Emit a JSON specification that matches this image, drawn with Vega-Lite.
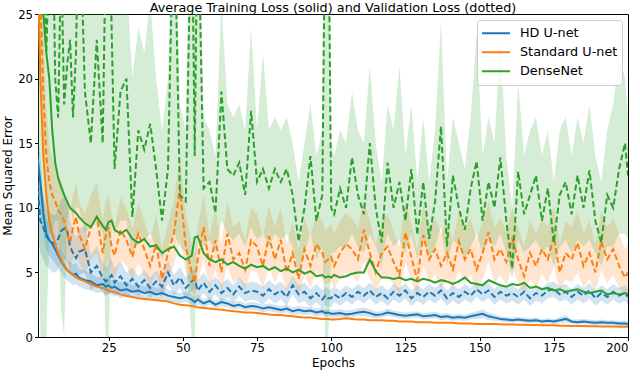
{
"$schema": "https://vega.github.io/schema/vega-lite/v6.json",
"width": 590, "height": 323,
"autosize": {"type": "none"},
"padding": {"left": 38, "top": 14, "right": 12, "bottom": 44},
"title": {"text": "Average Training Loss (solid) and Validation Loss (dotted)", "fontSize": 12.8, "fontWeight": "normal", "font": "DejaVu Sans", "color": "#000", "offset": 0, "dy": 5.5},
"data": {"values": [
{"e":1,"a":14,"al":12,"ah":16,"b":12,"bl":8,"bh":16,"c":30,"d":32,"dl":24,"dh":40,"f":40,"g":40,"gl":20,"gh":50},
{"e":2,"a":12,"al":10,"ah":14,"b":9,"bl":6.5,"bh":11.5,"c":20,"d":26,"dl":19,"dh":33,"f":30,"g":36,"gl":0,"gh":50},
{"e":3,"a":9.5,"al":8,"ah":11,"b":8.5,"bl":6,"bh":11,"c":14,"d":19,"dl":14,"dh":24,"f":25,"g":35,"gl":0,"gh":50},
{"e":4,"a":8,"al":6.8,"ah":9.2,"b":7.8,"bl":5.5,"bh":10,"c":11,"d":14,"dl":10.5,"dh":17.5,"f":22,"g":22,"gl":0,"gh":45},
{"e":5,"a":7.5,"al":6.3,"ah":8.7,"b":7.5,"bl":5.3,"bh":9.7,"c":9,"d":12,"dl":9,"dh":15,"f":20,"g":30,"gl":8,"gh":45},
{"e":6,"a":7.2,"al":6,"ah":8.3,"b":7.3,"bl":5,"bh":9.5,"c":8,"d":11,"dl":8.2,"dh":13.8,"f":16,"g":35,"gl":8,"gh":45},
{"e":7,"a":6.8,"al":5.7,"ah":7.9,"b":7.2,"bl":5,"bh":9.4,"c":7.2,"d":10.5,"dl":7.8,"dh":13.2,"f":13.5,"g":20,"gl":9,"gh":40},
{"e":8,"a":6.3,"al":5.3,"ah":7.3,"b":7.6,"bl":5.2,"bh":10,"c":6.5,"d":9.8,"dl":7.2,"dh":12.4,"f":12.3,"g":17,"gl":9,"gh":35},
{"e":9,"a":5.9,"al":5,"ah":6.8,"b":8.2,"bl":5.8,"bh":10.6,"c":6,"d":9.5,"dl":7,"dh":12,"f":11.6,"g":30,"gl":2,"gh":45},
{"e":10,"a":5.5,"al":4.6,"ah":6.4,"b":8.4,"bl":6,"bh":10.8,"c":5.6,"d":9,"dl":6.6,"dh":11.4,"f":11,"g":18,"gl":0,"gh":40},
{"e":11,"a":5.2,"al":4.4,"ah":6,"b":8.3,"bl":6,"bh":10.6,"c":5.2,"d":8,"dl":5.8,"dh":10.2,"f":10.5,"g":21,"gl":9,"gh":35},
{"e":12,"a":5,"al":4.2,"ah":5.8,"b":7,"bl":5,"bh":9,"c":5,"d":7.3,"dl":5.3,"dh":9.8,"f":10,"g":23,"gl":10,"gh":38},
{"e":13,"a":4.8,"al":4,"ah":5.6,"b":6.5,"bl":4.8,"bh":8.2,"c":4.8,"d":8.5,"dl":6,"dh":11,"f":9.8,"g":17,"gl":9,"gh":30},
{"e":14,"a":4.9,"al":4.1,"ah":5.7,"b":6.1,"bl":4.5,"bh":7.7,"c":4.6,"d":9.3,"dl":6.5,"dh":12,"f":9.6,"g":22,"gl":10,"gh":35},
{"e":15,"a":4.6,"al":3.9,"ah":5.3,"b":6.6,"bl":4.8,"bh":8.4,"c":4.5,"d":8,"dl":5.8,"dh":10.5,"f":9.3,"g":35,"gl":10,"gh":45},
{"e":17,"a":4.4,"al":3.7,"ah":5.1,"b":6.8,"bl":5,"bh":8.6,"c":4.3,"d":6.8,"dl":4.8,"dh":9.5,"f":8.8,"g":19,"gl":8,"gh":35},
{"e":19,"a":4.3,"al":3.6,"ah":5,"b":5,"bl":3.6,"bh":6.4,"c":4.1,"d":8.5,"dl":6,"dh":11,"f":8.5,"g":15,"gl":8.5,"gh":30},
{"e":21,"a":4,"al":3.4,"ah":4.6,"b":5.5,"bl":4,"bh":7,"c":3.9,"d":9.3,"dl":6.5,"dh":12,"f":9.3,"g":23,"gl":9,"gh":35},
{"e":23,"a":4.1,"al":3.5,"ah":4.7,"b":4.6,"bl":3.4,"bh":5.8,"c":3.8,"d":6.5,"dl":4.5,"dh":9,"f":8.6,"g":15,"gl":8,"gh":30},
{"e":24,"a":3.9,"al":3.3,"ah":4.5,"b":4.3,"bl":3.2,"bh":5.4,"c":3.7,"d":7.8,"dl":5.5,"dh":10.5,"f":8.3,"g":30,"gl":0,"gh":45},
{"e":25,"a":4,"al":3.4,"ah":4.6,"b":4.5,"bl":3.3,"bh":5.7,"c":3.6,"d":8.5,"dl":6,"dh":11,"f":8.9,"g":35,"gl":0,"gh":45},
{"e":26,"a":3.8,"al":3.2,"ah":4.4,"b":4.8,"bl":3.5,"bh":6.1,"c":3.5,"d":7,"dl":5,"dh":9.5,"f":9,"g":24,"gl":9,"gh":35},
{"e":27,"a":3.9,"al":3.3,"ah":4.5,"b":4.2,"bl":3.1,"bh":5.3,"c":3.5,"d":6.3,"dl":4.5,"dh":8.5,"f":8.3,"g":13,"gl":8,"gh":28},
{"e":29,"a":3.6,"al":3,"ah":4.2,"b":4.7,"bl":3.5,"bh":5.9,"c":3.3,"d":8.3,"dl":6,"dh":10.8,"f":8,"g":19,"gl":9,"gh":30},
{"e":31,"a":3.7,"al":3.1,"ah":4.3,"b":4,"bl":3,"bh":5,"c":3.2,"d":7.5,"dl":5.5,"dh":10,"f":8.3,"g":20,"gl":9,"gh":28},
{"e":33,"a":3.5,"al":3,"ah":4,"b":4.5,"bl":3.6,"bh":5.4,"c":3.1,"d":6.2,"dl":4.4,"dh":8.4,"f":7.6,"g":9.3,"gl":6,"gh":20},
{"e":35,"a":3.6,"al":3.1,"ah":4.1,"b":3.9,"bl":3.1,"bh":4.7,"c":3,"d":8,"dl":5.8,"dh":10.4,"f":7.3,"g":16,"gl":8,"gh":24},
{"e":37,"a":3.4,"al":2.9,"ah":3.9,"b":4.4,"bl":3.6,"bh":5.2,"c":2.95,"d":6.8,"dl":4.8,"dh":9,"f":7.6,"g":14.5,"gl":7.5,"gh":22},
{"e":39,"a":3.5,"al":3,"ah":4,"b":3.8,"bl":3,"bh":4.6,"c":2.9,"d":5.5,"dl":3.8,"dh":7.5,"f":7,"g":16.5,"gl":8,"gh":26},
{"e":41,"a":3.3,"al":2.8,"ah":3.8,"b":4.3,"bl":3.5,"bh":5.1,"c":2.85,"d":7.2,"dl":5,"dh":9.5,"f":7.1,"g":13,"gl":7,"gh":20},
{"e":43,"a":3.4,"al":2.9,"ah":3.9,"b":3.9,"bl":3.1,"bh":4.7,"c":2.8,"d":4.5,"dl":3.3,"dh":6.8,"f":6.5,"g":9,"gl":6,"gh":16},
{"e":45,"a":3.2,"al":2.7,"ah":3.7,"b":5,"bl":4.1,"bh":5.9,"c":2.75,"d":6.5,"dl":4.6,"dh":8.8,"f":6.8,"g":13,"gl":7,"gh":20},
{"e":47,"a":3.1,"al":2.7,"ah":3.5,"b":4,"bl":3.2,"bh":4.8,"c":2.6,"d":8,"dl":5.5,"dh":10.5,"f":7,"g":35,"gl":8,"gh":40},
{"e":49,"a":3,"al":2.6,"ah":3.4,"b":4.6,"bl":3.8,"bh":5.4,"c":2.5,"d":11.5,"dl":7.5,"dh":14,"f":6.3,"g":11,"gl":7,"gh":18},
{"e":51,"a":3.1,"al":2.7,"ah":3.5,"b":3.8,"bl":3,"bh":4.6,"c":2.45,"d":7,"dl":5,"dh":9.5,"f":6,"g":10.5,"gl":6.5,"gh":16},
{"e":53,"a":2.9,"al":2.5,"ah":3.3,"b":4.3,"bl":3.5,"bh":5.1,"c":2.4,"d":5,"dl":3.5,"dh":7.2,"f":6.3,"g":35,"gl":0,"gh":45},
{"e":54,"a":2.7,"al":2.3,"ah":3.1,"b":4.5,"bl":3.7,"bh":5.3,"c":2.35,"d":4.2,"dl":3,"dh":6.5,"f":7.7,"g":14,"gl":0,"gh":40},
{"e":55,"a":2.9,"al":2.5,"ah":3.3,"b":3.6,"bl":2.8,"bh":4.4,"c":2.3,"d":6,"dl":4.2,"dh":8.5,"f":7.8,"g":35,"gl":8,"gh":40},
{"e":57,"a":2.6,"al":2.3,"ah":2.9,"b":4.2,"bl":3.4,"bh":5,"c":2.25,"d":8.5,"dl":6,"dh":11,"f":6.5,"g":11.5,"gl":7,"gh":17},
{"e":59,"a":2.8,"al":2.5,"ah":3.1,"b":3.5,"bl":2.8,"bh":4.2,"c":2.2,"d":5.5,"dl":3.8,"dh":7.8,"f":6,"g":12,"gl":7.5,"gh":16},
{"e":61,"a":2.5,"al":2.2,"ah":2.8,"b":4,"bl":3.3,"bh":4.7,"c":2.15,"d":7.5,"dl":5.2,"dh":10,"f":5.8,"g":9.6,"gl":6.5,"gh":14},
{"e":63,"a":2.7,"al":2.4,"ah":3,"b":3.4,"bl":2.7,"bh":4.1,"c":2.1,"d":5,"dl":3.5,"dh":7.2,"f":6,"g":19,"gl":9,"gh":26},
{"e":65,"a":2.6,"al":2.3,"ah":2.9,"b":3.8,"bl":3.1,"bh":4.5,"c":2.05,"d":8,"dl":5.5,"dh":10.5,"f":5.6,"g":13,"gl":8,"gh":18},
{"e":67,"a":2.4,"al":2.1,"ah":2.7,"b":3.3,"bl":2.6,"bh":4,"c":2,"d":6,"dl":4.2,"dh":8.5,"f":5.8,"g":12.5,"gl":7.5,"gh":17},
{"e":69,"a":2.5,"al":2.2,"ah":2.8,"b":3.9,"bl":3.2,"bh":4.6,"c":1.95,"d":6.5,"dl":4.5,"dh":9,"f":5.5,"g":13.5,"gl":8,"gh":18},
{"e":71,"a":2.3,"al":2,"ah":2.6,"b":3.4,"bl":2.7,"bh":4.1,"c":1.9,"d":5.2,"dl":3.6,"dh":7.5,"f":5.3,"g":11,"gl":7,"gh":16},
{"e":73,"a":2.4,"al":2.1,"ah":2.7,"b":3.6,"bl":2.9,"bh":4.3,"c":1.9,"d":7.5,"dl":5.2,"dh":10,"f":5.6,"g":17.5,"gl":8.5,"gh":24},
{"e":75,"a":2.35,"al":2.05,"ah":2.65,"b":3.5,"bl":2.8,"bh":4.2,"c":1.85,"d":7,"dl":5,"dh":9.5,"f":5.4,"g":12,"gl":7.5,"gh":16},
{"e":77,"a":2.2,"al":1.9,"ah":2.5,"b":3.2,"bl":2.5,"bh":3.9,"c":1.8,"d":5.5,"dl":3.8,"dh":7.8,"f":5.5,"g":13,"gl":8,"gh":22},
{"e":79,"a":2.3,"al":2,"ah":2.6,"b":3.7,"bl":3,"bh":4.4,"c":1.75,"d":7.8,"dl":5.5,"dh":10.2,"f":5.2,"g":11.5,"gl":7,"gh":16},
{"e":81,"a":2.2,"al":1.9,"ah":2.5,"b":3.3,"bl":2.6,"bh":4,"c":1.7,"d":6,"dl":4.2,"dh":8.5,"f":5.4,"g":13,"gl":8,"gh":17},
{"e":83,"a":2.1,"al":1.8,"ah":2.4,"b":3.6,"bl":2.9,"bh":4.3,"c":1.7,"d":7.5,"dl":5.2,"dh":10,"f":5.1,"g":12,"gl":7.5,"gh":16},
{"e":85,"a":2.2,"al":1.9,"ah":2.5,"b":3.1,"bl":2.4,"bh":3.8,"c":1.65,"d":5,"dl":3.5,"dh":7.2,"f":5.3,"g":13,"gl":8,"gh":17},
{"e":87,"a":2,"al":1.7,"ah":2.3,"b":4,"bl":3.3,"bh":4.7,"c":1.6,"d":6.5,"dl":4.5,"dh":9,"f":5,"g":11,"gl":7,"gh":15},
{"e":89,"a":2.1,"al":1.8,"ah":2.4,"b":3.3,"bl":2.6,"bh":4,"c":1.55,"d":4.5,"dl":3.2,"dh":6.8,"f":5.2,"g":7.4,"gl":5,"gh":12},
{"e":91,"a":2,"al":1.7,"ah":2.3,"b":3.5,"bl":2.8,"bh":4.2,"c":1.5,"d":6.8,"dl":4.8,"dh":9.2,"f":4.9,"g":10,"gl":6.5,"gh":15},
{"e":93,"a":2.05,"al":1.75,"ah":2.35,"b":3,"bl":2.3,"bh":3.7,"c":1.5,"d":5.5,"dl":3.8,"dh":7.8,"f":5.1,"g":14,"gl":8,"gh":18},
{"e":95,"a":1.9,"al":1.6,"ah":2.2,"b":3.4,"bl":2.7,"bh":4.1,"c":1.45,"d":7.2,"dl":5,"dh":9.6,"f":4.7,"g":9,"gl":6,"gh":14},
{"e":97,"a":2,"al":1.7,"ah":2.3,"b":2.9,"bl":2.2,"bh":3.6,"c":1.4,"d":6.5,"dl":4.5,"dh":9,"f":4.8,"g":11,"gl":7,"gh":16},
{"e":98,"a":1.85,"al":1.55,"ah":2.15,"b":3.2,"bl":2.5,"bh":3.9,"c":1.4,"d":5.8,"dl":4,"dh":8.2,"f":4.6,"g":35,"gl":0,"gh":45},
{"e":99,"a":1.9,"al":1.6,"ah":2.2,"b":3,"bl":2.3,"bh":3.7,"c":1.4,"d":6,"dl":4.2,"dh":8.5,"f":4.7,"g":35,"gl":0,"gh":45},
{"e":100,"a":1.8,"al":1.5,"ah":2.1,"b":3,"bl":2.3,"bh":3.7,"c":1.35,"d":6.2,"dl":4.3,"dh":8.7,"f":4.6,"g":10,"gl":6.5,"gh":15},
{"e":101,"a":1.8,"al":1.5,"ah":2.1,"b":3.3,"bl":2.7,"bh":3.9,"c":1.35,"d":5.5,"dl":3.8,"dh":8,"f":4.8,"g":9.5,"gl":6.5,"gh":14},
{"e":103,"a":1.85,"al":1.55,"ah":2.15,"b":3,"bl":2.4,"bh":3.6,"c":1.4,"d":6.5,"dl":4.5,"dh":9,"f":4.6,"g":11.5,"gl":7,"gh":16},
{"e":105,"a":1.75,"al":1.45,"ah":2.05,"b":3.4,"bl":2.8,"bh":4,"c":1.45,"d":7.2,"dl":5,"dh":9.6,"f":4.7,"g":10,"gl":7,"gh":15},
{"e":107,"a":1.8,"al":1.5,"ah":2.1,"b":3.1,"bl":2.5,"bh":3.7,"c":1.4,"d":6.8,"dl":4.8,"dh":9.2,"f":4.9,"g":13.9,"gl":8,"gh":19},
{"e":109,"a":1.9,"al":1.6,"ah":2.2,"b":3.5,"bl":2.9,"bh":4.1,"c":1.35,"d":6,"dl":4.2,"dh":8.5,"f":5,"g":11,"gl":7,"gh":16},
{"e":111,"a":1.95,"al":1.6,"ah":2.3,"b":3.2,"bl":2.6,"bh":3.8,"c":1.35,"d":8.3,"dl":5.8,"dh":10.5,"f":5,"g":9.5,"gl":6.5,"gh":15},
{"e":113,"a":1.85,"al":1.55,"ah":2.15,"b":3.6,"bl":3,"bh":4.2,"c":1.3,"d":6.5,"dl":4.5,"dh":9,"f":6,"g":15,"gl":8,"gh":21},
{"e":115,"a":1.7,"al":1.45,"ah":1.95,"b":3.1,"bl":2.5,"bh":3.7,"c":1.3,"d":5,"dl":3.5,"dh":7.2,"f":5.1,"g":10,"gl":7,"gh":15},
{"e":117,"a":1.75,"al":1.5,"ah":2,"b":3.4,"bl":2.8,"bh":4,"c":1.3,"d":6.5,"dl":4.5,"dh":9,"f":4.6,"g":7.3,"gl":5.5,"gh":12},
{"e":119,"a":1.9,"al":1.6,"ah":2.2,"b":3,"bl":2.4,"bh":3.6,"c":1.25,"d":7,"dl":4.8,"dh":9.5,"f":4.6,"g":13.5,"gl":8,"gh":18},
{"e":121,"a":1.8,"al":1.55,"ah":2.05,"b":3.5,"bl":2.9,"bh":4.1,"c":1.25,"d":5.8,"dl":4,"dh":8.2,"f":4.5,"g":10,"gl":7,"gh":16},
{"e":123,"a":1.7,"al":1.45,"ah":1.95,"b":3.2,"bl":2.6,"bh":3.8,"c":1.2,"d":4.8,"dl":3.3,"dh":7,"f":4.6,"g":12,"gl":7.5,"gh":21},
{"e":125,"a":1.65,"al":1.4,"ah":1.9,"b":3.6,"bl":3,"bh":4.2,"c":1.2,"d":8.1,"dl":5.8,"dh":10.5,"f":4.4,"g":9,"gl":6.5,"gh":14},
{"e":127,"a":1.7,"al":1.45,"ah":1.95,"b":3,"bl":2.4,"bh":3.6,"c":1.2,"d":6.2,"dl":4.3,"dh":8.7,"f":4.5,"g":13,"gl":8,"gh":18},
{"e":129,"a":1.75,"al":1.5,"ah":2,"b":3.4,"bl":2.8,"bh":4,"c":1.15,"d":4.4,"dl":3.1,"dh":6.6,"f":4.3,"g":7.9,"gl":6,"gh":12},
{"e":131,"a":1.6,"al":1.35,"ah":1.85,"b":3.1,"bl":2.5,"bh":3.7,"c":1.15,"d":7.9,"dl":5.5,"dh":10.2,"f":4.5,"g":12,"gl":7.5,"gh":17},
{"e":133,"a":1.65,"al":1.4,"ah":1.9,"b":3.5,"bl":2.9,"bh":4.1,"c":1.15,"d":6,"dl":4.2,"dh":8.5,"f":4.4,"g":7.6,"gl":6,"gh":12},
{"e":135,"a":1.7,"al":1.45,"ah":1.95,"b":3.2,"bl":2.6,"bh":3.8,"c":1.1,"d":6.8,"dl":4.8,"dh":9.2,"f":4.2,"g":10.5,"gl":7,"gh":16},
{"e":137,"a":1.55,"al":1.3,"ah":1.8,"b":3.6,"bl":3,"bh":4.2,"c":1.1,"d":5.5,"dl":3.8,"dh":8,"f":4.4,"g":16.3,"gl":8.5,"gh":24.5},
{"e":139,"a":1.6,"al":1.35,"ah":1.85,"b":3,"bl":2.4,"bh":3.6,"c":1.1,"d":6.5,"dl":4.5,"dh":9,"f":4.3,"g":7,"gl":5.5,"gh":12},
{"e":141,"a":1.5,"al":1.25,"ah":1.75,"b":3.4,"bl":2.8,"bh":4,"c":1.1,"d":5.2,"dl":3.6,"dh":7.5,"f":4.1,"g":12.5,"gl":7.5,"gh":17},
{"e":143,"a":1.55,"al":1.3,"ah":1.8,"b":3.1,"bl":2.5,"bh":3.7,"c":1.05,"d":7.4,"dl":5.2,"dh":9.8,"f":4.3,"g":10,"gl":7,"gh":15},
{"e":145,"a":1.5,"al":1.25,"ah":1.75,"b":3.5,"bl":2.9,"bh":4.1,"c":1.05,"d":6,"dl":4.2,"dh":8.5,"f":4.6,"g":8.3,"gl":6,"gh":13},
{"e":147,"a":1.6,"al":1.35,"ah":1.85,"b":3.2,"bl":2.6,"bh":3.8,"c":1.05,"d":6.8,"dl":4.8,"dh":9.2,"f":4.2,"g":11.5,"gl":7,"gh":17},
{"e":149,"a":1.7,"al":1.4,"ah":2,"b":3.7,"bl":3.1,"bh":4.3,"c":1,"d":5.2,"dl":3.6,"dh":7.5,"f":4.1,"g":13.6,"gl":8,"gh":23.5},
{"e":151,"a":1.8,"al":1.45,"ah":2.15,"b":3.3,"bl":2.7,"bh":3.9,"c":1,"d":6.5,"dl":4.5,"dh":9,"f":4,"g":9,"gl":6.5,"gh":14},
{"e":153,"a":1.6,"al":1.3,"ah":1.9,"b":3.6,"bl":3,"bh":4.2,"c":1,"d":8.1,"dl":5.8,"dh":10.5,"f":4.4,"g":12,"gl":7.5,"gh":17},
{"e":155,"a":1.5,"al":1.25,"ah":1.75,"b":3.1,"bl":2.5,"bh":3.7,"c":1,"d":6,"dl":4.2,"dh":8.5,"f":4.2,"g":10,"gl":7,"gh":15},
{"e":157,"a":1.4,"al":1.2,"ah":1.6,"b":3.5,"bl":2.9,"bh":4.1,"c":0.98,"d":6.8,"dl":4.8,"dh":9.2,"f":4,"g":13.9,"gl":8,"gh":23},
{"e":159,"a":1.35,"al":1.15,"ah":1.55,"b":3.2,"bl":2.6,"bh":3.8,"c":0.97,"d":5.8,"dl":4,"dh":8.2,"f":3.9,"g":9,"gl":6.5,"gh":14},
{"e":161,"a":1.3,"al":1.1,"ah":1.5,"b":3.4,"bl":2.8,"bh":4,"c":0.96,"d":7.6,"dl":5.3,"dh":10,"f":4.1,"g":5.3,"gl":4.5,"gh":10},
{"e":163,"a":1.35,"al":1.15,"ah":1.55,"b":3.1,"bl":2.5,"bh":3.7,"c":0.95,"d":6,"dl":4.2,"dh":8.5,"f":4,"g":12.8,"gl":7.5,"gh":19.6},
{"e":165,"a":1.3,"al":1.1,"ah":1.5,"b":3.5,"bl":2.9,"bh":4.1,"c":0.94,"d":4.7,"dl":3.3,"dh":7,"f":4.2,"g":9.5,"gl":6.5,"gh":14},
{"e":167,"a":1.25,"al":1.05,"ah":1.45,"b":3,"bl":2.4,"bh":3.6,"c":0.93,"d":6.5,"dl":4.5,"dh":9,"f":3.8,"g":11,"gl":7,"gh":16},
{"e":169,"a":1.3,"al":1.1,"ah":1.5,"b":3.4,"bl":2.8,"bh":4,"c":0.92,"d":5.5,"dl":3.8,"dh":8,"f":3.9,"g":12.5,"gl":7.5,"gh":17},
{"e":171,"a":1.2,"al":1,"ah":1.4,"b":3.2,"bl":2.6,"bh":3.8,"c":0.91,"d":6.8,"dl":4.8,"dh":9.2,"f":3.7,"g":9,"gl":6.5,"gh":14},
{"e":173,"a":1.25,"al":1.05,"ah":1.45,"b":3.6,"bl":3,"bh":4.2,"c":0.9,"d":6,"dl":4.2,"dh":8.5,"f":3.8,"g":11.5,"gl":7,"gh":16},
{"e":175,"a":1.2,"al":1,"ah":1.4,"b":3.7,"bl":3.1,"bh":4.3,"c":0.9,"d":7.8,"dl":5.5,"dh":10.2,"f":3.6,"g":7.3,"gl":5.5,"gh":12},
{"e":177,"a":1.3,"al":1.05,"ah":1.55,"b":3.3,"bl":2.7,"bh":3.9,"c":0.88,"d":5,"dl":3.5,"dh":7.2,"f":3.7,"g":11,"gl":7,"gh":16},
{"e":179,"a":1.4,"al":1.1,"ah":1.7,"b":3.5,"bl":2.9,"bh":4.1,"c":0.87,"d":6.5,"dl":4.5,"dh":9,"f":3.5,"g":12,"gl":7.5,"gh":17},
{"e":181,"a":1.2,"al":1,"ah":1.4,"b":3.1,"bl":2.5,"bh":3.7,"c":0.86,"d":6,"dl":4.2,"dh":8.5,"f":3.6,"g":9.5,"gl":6.5,"gh":14},
{"e":183,"a":1.15,"al":0.95,"ah":1.35,"b":3.5,"bl":2.9,"bh":4.1,"c":0.85,"d":7.3,"dl":5,"dh":9.7,"f":3.7,"g":12.5,"gl":7.5,"gh":17},
{"e":185,"a":1.2,"al":1,"ah":1.4,"b":3.2,"bl":2.6,"bh":3.8,"c":0.85,"d":5.5,"dl":3.8,"dh":8,"f":3.5,"g":10,"gl":7,"gh":15},
{"e":187,"a":1.15,"al":0.95,"ah":1.35,"b":3.6,"bl":3,"bh":4.2,"c":0.84,"d":6.5,"dl":4.5,"dh":9,"f":3.4,"g":12.9,"gl":7.5,"gh":18},
{"e":189,"a":1.1,"al":0.9,"ah":1.3,"b":3,"bl":2.4,"bh":3.6,"c":0.83,"d":5,"dl":3.5,"dh":7.2,"f":3.5,"g":9,"gl":6.5,"gh":14},
{"e":191,"a":1.15,"al":0.95,"ah":1.35,"b":3.4,"bl":2.8,"bh":4,"c":0.82,"d":7.4,"dl":5.2,"dh":9.8,"f":3.6,"g":7.3,"gl":5.5,"gh":12},
{"e":193,"a":1.1,"al":0.9,"ah":1.3,"b":3.1,"bl":2.5,"bh":3.7,"c":0.82,"d":6,"dl":4.2,"dh":8.5,"f":3.3,"g":11,"gl":7,"gh":16},
{"e":195,"a":1.1,"al":0.9,"ah":1.3,"b":3.5,"bl":2.9,"bh":4.1,"c":0.81,"d":6.8,"dl":4.8,"dh":9.2,"f":3.4,"g":10,"gl":7,"gh":18},
{"e":197,"a":1.05,"al":0.85,"ah":1.25,"b":3.2,"bl":2.6,"bh":3.8,"c":0.8,"d":5.5,"dl":3.8,"dh":8,"f":3.3,"g":13,"gl":8,"gh":21.7},
{"e":199,"a":1.05,"al":0.85,"ah":1.25,"b":3.4,"bl":2.8,"bh":4,"c":0.8,"d":4.6,"dl":3.2,"dh":6.8,"f":3.4,"g":15,"gl":8,"gh":20},
{"e":200,"a":1,"al":0.8,"ah":1.2,"b":3.1,"bl":2.5,"bh":3.7,"c":0.8,"d":5,"dl":3.5,"dh":7.2,"f":3.3,"g":12.5,"gl":7.5,"gh":17}
]},
"encoding": {
  "x": {"field": "e", "type": "quantitative", "scale": {"domain": [1.2, 200], "nice": false, "zero": false},
        "axis": {"values": [25, 50, 75, 100, 125, 150, 175, 200], "title": "Epochs", "titlePadding": 3}}
},
"layer": [
  {"mark": {"type": "area", "color": "#1f77b4", "opacity": 0.2, "clip": true}, "encoding": {"y": {"field": "al", "type": "quantitative", "scale": {"domain": [0, 25], "nice": false}, "axis": {"values": [0, 5, 10, 15, 20, 25], "title": "Mean Squared Error", "titlePadding": 3}}, "y2": {"field": "ah"}}},
  {"mark": {"type": "area", "color": "#1f77b4", "opacity": 0.2, "clip": true}, "encoding": {"y": {"field": "bl", "type": "quantitative"}, "y2": {"field": "bh"}}},
  {"mark": {"type": "area", "color": "#ff7f0e", "opacity": 0.2, "clip": true}, "encoding": {"y": {"field": "dl", "type": "quantitative"}, "y2": {"field": "dh"}}},
  {"mark": {"type": "area", "color": "#2ca02c", "opacity": 0.2, "clip": true}, "encoding": {"y": {"field": "gl", "type": "quantitative"}, "y2": {"field": "gh"}}},
  {"mark": {"type": "line", "strokeWidth": 2, "clip": true}, "encoding": {"y": {"field": "a", "type": "quantitative"},
     "color": {"datum": "HD U-net", "type": "nominal", "scale": {"domain": ["HD U-net", "Standard U-net", "DenseNet"], "range": ["#1f77b4", "#ff7f0e", "#2ca02c"]},
       "legend": {"title": null, "orient": "top-right", "offset": 6, "padding": 4, "fillColor": "rgba(255,255,255,0.8)", "strokeColor": "#cccccc", "cornerRadius": 3, "symbolType": "stroke", "symbolSize": 784, "symbolStrokeWidth": 2, "labelFontSize": 12.8, "labelOffset": 9, "clipHeight": 18.5, "rowPadding": 0, "labelColor": "#000"}}}},
  {"mark": {"type": "line", "strokeWidth": 2, "color": "#1f77b4", "strokeDash": [6, 3], "clip": true}, "encoding": {"y": {"field": "b", "type": "quantitative"}}},
  {"mark": {"type": "line", "strokeWidth": 2, "clip": true}, "encoding": {"y": {"field": "c", "type": "quantitative"}, "color": {"datum": "Standard U-net", "type": "nominal"}}},
  {"mark": {"type": "line", "strokeWidth": 2, "color": "#ff7f0e", "strokeDash": [6, 3], "clip": true}, "encoding": {"y": {"field": "d", "type": "quantitative"}}},
  {"mark": {"type": "line", "strokeWidth": 2, "clip": true}, "encoding": {"y": {"field": "f", "type": "quantitative"}, "color": {"datum": "DenseNet", "type": "nominal"}}},
  {"mark": {"type": "line", "strokeWidth": 2, "color": "#2ca02c", "strokeDash": [6, 3], "clip": true}, "encoding": {"y": {"field": "g", "type": "quantitative"}}}
],
"config": {
  "font": "DejaVu Sans",
  "view": {"stroke": "#000", "strokeWidth": 1},
  "axis": {"grid": false, "domain": false, "tickColor": "#000", "tickSize": 3.5, "labelColor": "#000", "titleColor": "#000", "labelFontSize": 11.7, "titleFontSize": 12, "titleFontWeight": "normal", "labelPadding": 2, "labelFont": "DejaVu Sans", "titleFont": "DejaVu Sans"},
  "legend": {"labelFont": "DejaVu Sans"}
}
}
